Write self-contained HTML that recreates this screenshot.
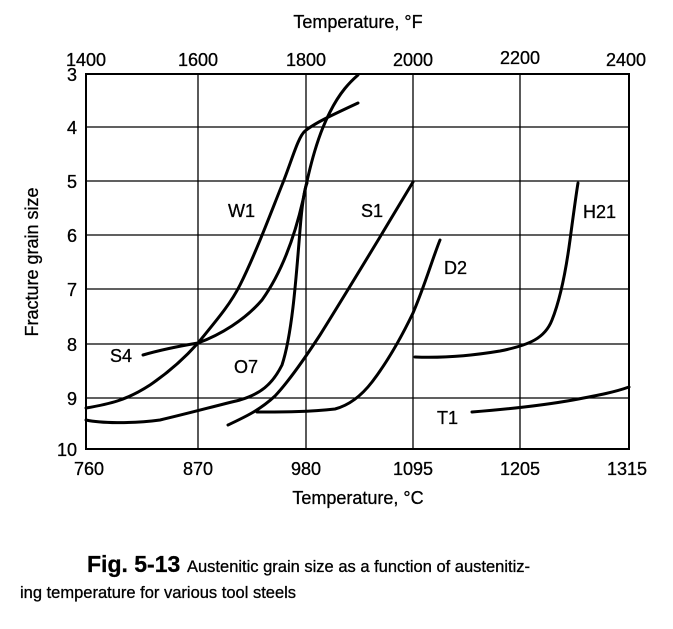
<!DOCTYPE html>
<html><head><style>
body{margin:0;background:#fff;}
svg text{font-family:"Liberation Sans",Arial,sans-serif;fill:#000;stroke:#000;stroke-width:0.3;}
</style></head><body>
<svg width="673" height="624" viewBox="0 0 673 624" xmlns="http://www.w3.org/2000/svg">
<g stroke="#000" stroke-width="1.3" fill="none">
<rect x="86" y="74" width="543" height="375" stroke-width="2"/>
<line x1="198" y1="74" x2="198" y2="449"/><line x1="306" y1="74" x2="306" y2="449"/>
<line x1="413" y1="74" x2="413" y2="449"/><line x1="520" y1="74" x2="520" y2="449"/>
<line x1="86" y1="127" x2="629" y2="127"/><line x1="86" y1="181" x2="629" y2="181"/>
<line x1="86" y1="235" x2="629" y2="235"/><line x1="86" y1="289" x2="629" y2="289"/>
<line x1="86" y1="344" x2="629" y2="344"/><line x1="86" y1="398" x2="629" y2="398"/>
</g>
<g stroke="#000" stroke-width="3" fill="none" stroke-linecap="round" stroke-linejoin="round">
<path d="M86,408 C110,404 127,400 150,385 C175,368 190,352 198,343 C215,322 230,305 240,285 C255,255 270,215 282,185 C292,160 298,137 305,131 C315,123 330,116 358,103"/>
<path d="M143,355 C160,350 180,346 198,343 C220,335 245,320 262,300 C282,272 295,235 303,200 C310,165 318,135 330,112 C340,92 350,82 358,75"/>
<path d="M86,420 C100,423 130,424 160,420 C190,413 215,406 240,400 C260,394 272,385 282,365 C292,335 296,280 300,230 C302,205 304,190 307,183"/>
<path d="M228,425 C245,417 260,410 275,396 C290,380 305,358 320,335 C340,303 360,270 380,237 C395,212 405,195 413,182"/>
<path d="M257,412 C280,412 310,412 335,409 C350,405 362,395 372,382 C385,365 400,340 413,313 C425,285 432,260 440,240"/>
<path d="M415,357 C440,358 470,356 500,351 C530,345 545,338 552,320 C560,300 566,270 570,240 C574,210 576,195 578,183"/>
<path d="M472,412 C510,409 545,405 573,400 C600,395 615,392 629,387"/>
</g>
<g font-size="18">
<text x="77" y="81" text-anchor="end">3</text><text x="77" y="134" text-anchor="end">4</text>
<text x="77" y="188" text-anchor="end">5</text><text x="77" y="242" text-anchor="end">6</text>
<text x="77" y="296" text-anchor="end">7</text><text x="77" y="351" text-anchor="end">8</text>
<text x="77" y="405" text-anchor="end">9</text><text x="77" y="456" text-anchor="end">10</text>
<g text-anchor="middle">
<text x="86" y="66">1400</text><text x="198" y="66">1600</text><text x="306" y="66">1800</text>
<text x="413" y="66">2000</text><text x="520" y="64">2200</text><text x="626" y="66">2400</text>
<text x="89" y="475">760</text><text x="198" y="475">870</text><text x="306" y="475">980</text>
<text x="413" y="475">1095</text><text x="520" y="475">1205</text><text x="627" y="475">1315</text>
<text x="358" y="28">Temperature, °F</text>
<text x="358" y="504">Temperature, °C</text>
</g>
<text transform="translate(38,262) rotate(-90)" text-anchor="middle">Fracture grain size</text>
<text x="228" y="217">W1</text><text x="361" y="217">S1</text><text x="444" y="274">D2</text>
<text x="583" y="218">H21</text><text x="110" y="362">S4</text><text x="234" y="373">O7</text>
<text x="437" y="424">T1</text>
</g>
<text x="87" y="572" font-size="23" font-weight="bold">Fig. 5-13</text>
<text x="187" y="572" font-size="16.5">Austenitic grain size as a function of austenitiz-</text>
<text x="20" y="598" font-size="16.5">ing temperature for various tool steels</text>
</svg>
</body></html>
